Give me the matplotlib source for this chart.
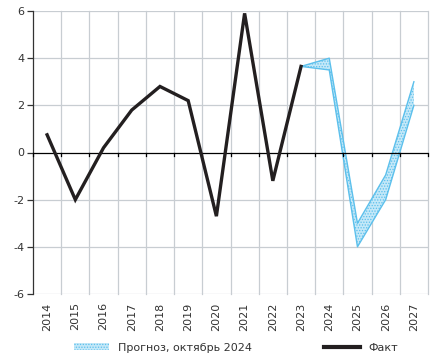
import matplotlib.pyplot as plt
import numpy as np
from matplotlib.patches import Patch
from matplotlib.lines import Line2D

years = [str(y) for y in range(2014, 2028)]

# actual values 2014-2023
fact_years = years[:10]
fact = [0.75, -2.0, 0.2, 1.8, 2.8, 2.2, -2.7, 5.9, -1.2, 3.65]

# forecast band (October 2024), 2023-2027
band_years = years[9:]
band_low = [3.65, 3.5, -4.0, -2.0, 2.0]
band_high = [3.65, 4.0, -3.0, -0.95, 3.0]

plt.rcParams['font.family'] = ['DejaVu Sans']
plt.rcParams['hatch.linewidth'] = 0.6

fig = plt.figure(figsize=(4.37, 3.59), dpi=100)
ax = fig.add_axes([33 / 437, 65 / 359, 395 / 437, 283 / 359])

x_all = np.arange(len(years))
x_fact = x_all[:len(fact)]
x_band = x_all[len(fact) - 1:]

ax.set_xlim(-0.5, len(years) - 0.5)
ax.set_ylim(-6, 6)

# grid
for yv in range(-6, 7, 2):
    if yv != 0:
        ax.axhline(yv, color='#c8cdd2', lw=0.9, zorder=0)
for xv in np.arange(0.5, len(years) + 0.5, 1.0):
    ax.axvline(xv, color='#c8cdd2', lw=0.9, zorder=0, clip_on=False)
ax.axhline(0, color='black', lw=0.9, zorder=3)
for xv in np.arange(-0.5, len(years), 1.0):
    ax.plot([xv, xv], [0, -0.15], color='black', lw=0.9, zorder=3,
            clip_on=False)

ax.fill_between(x_band, band_low, band_high, facecolor='#c4e8f8',
                edgecolor='#5cc0ec', hatch='......', lw=0.0, zorder=2)
ax.plot(x_band, band_low, color='#5cc0ec', lw=1.0, zorder=2)
ax.plot(x_band, band_high, color='#5cc0ec', lw=1.0, zorder=2)

ax.plot(x_fact, fact, color='#231f20', lw=2.4, zorder=4,
        solid_joinstyle='miter')

for s in ['top', 'right', 'bottom']:
    ax.spines[s].set_visible(False)
ax.spines['left'].set_color('#333333')
ax.spines['left'].set_linewidth(0.9)

ax.set_yticks(range(-6, 7, 2))
ax.set_yticklabels([str(v) for v in range(-6, 7, 2)])
ax.tick_params(axis='y', length=4, width=0.9, color='#333333',
               labelsize=8, labelcolor='#333333', pad=2)
ax.set_xticks(x_all)
ax.set_xticklabels(years, rotation=90)
ax.tick_params(axis='x', length=0, labelsize=8, labelcolor='#333333',
               pad=6)

handles = [
    Patch(facecolor='#c4e8f8', edgecolor='#5cc0ec', hatch='......', lw=0),
    Line2D([0], [0], color='#231f20', lw=3),
]
fig.legend(handles, ['Прогноз, октябрь 2024', 'Факт'], loc='lower center',
           bbox_to_anchor=(0.54, -0.01), ncol=2, frameon=False, fontsize=8,
           columnspacing=6.5, handlelength=3.2, handleheight=0.6,
           labelcolor='#333333')

fig.savefig('out.png', dpi=100)
